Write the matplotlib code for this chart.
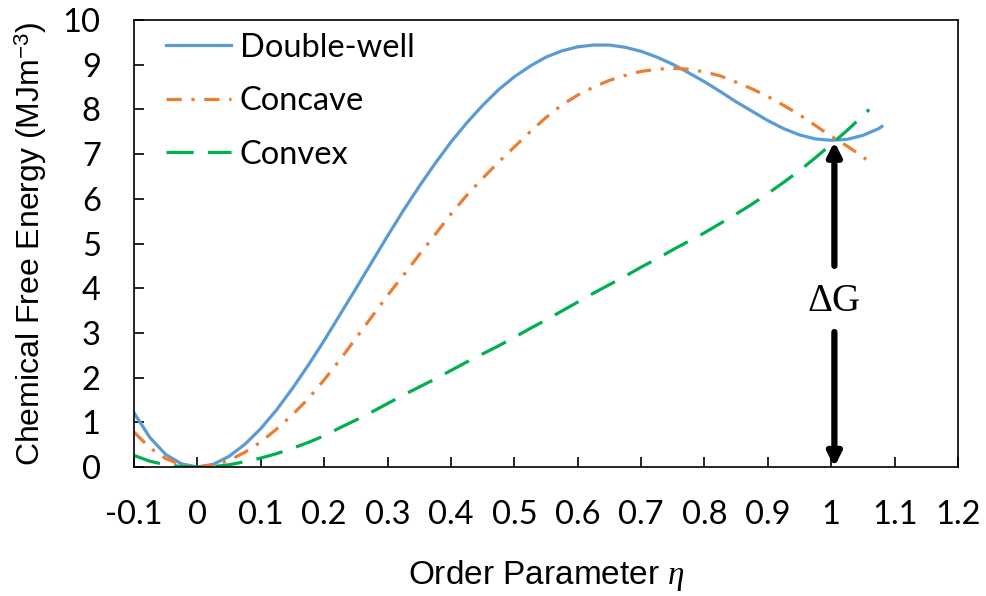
import matplotlib
matplotlib.use('Agg')
import matplotlib.pyplot as plt

# order parameter grid
eta = [-0.1, -0.075, -0.05, -0.025, 0.0, 0.025, 0.05, 0.075, 0.1, 0.125,
       0.15, 0.175, 0.2, 0.225, 0.25, 0.275, 0.3, 0.325, 0.35, 0.375,
       0.4, 0.425, 0.45, 0.475, 0.5, 0.525, 0.55, 0.575, 0.6, 0.625,
       0.65, 0.675, 0.7, 0.725, 0.75, 0.775, 0.8, 0.825, 0.85, 0.875,
       0.9, 0.925, 0.95, 0.975, 1.0, 1.025, 1.05]

eta_double = eta + [1.075, 1.08]
double_well = [1.21, 0.66, 0.28, 0.07, 0.0, 0.06, 0.24, 0.51, 0.86, 1.28,
               1.76, 2.28, 2.83, 3.41, 3.99, 4.58, 5.17, 5.74, 6.28, 6.79,
               7.27, 7.70, 8.09, 8.44, 8.73, 8.97, 9.17, 9.31, 9.40, 9.44,
               9.44, 9.39, 9.30, 9.17, 9.01, 8.82, 8.62, 8.40, 8.17, 7.96,
               7.75, 7.57, 7.43, 7.34, 7.31, 7.33, 7.42, 7.57, 7.62]

eta_concave = eta + [1.055]
concave = [0.78, 0.43, 0.19, 0.05, 0.0, 0.04, 0.15, 0.33, 0.56, 0.85,
           1.17, 1.53, 1.95, 2.40, 2.88, 3.36, 3.84, 4.29, 4.75, 5.20,
           5.66, 6.08, 6.46, 6.82, 7.16, 7.50, 7.82, 8.10, 8.32, 8.50,
           8.65, 8.76, 8.85, 8.90, 8.92, 8.90, 8.84, 8.75, 8.61, 8.46,
           8.29, 8.09, 7.88, 7.64, 7.40, 7.18, 6.94, 6.88]

eta_convex = eta + [1.06]
convex = [0.26, 0.13, 0.05, 0.01, 0.0, 0.01, 0.05, 0.12, 0.20, 0.30,
          0.42, 0.55, 0.70, 0.88, 1.05, 1.23, 1.42, 1.61, 1.79, 1.97,
          2.16, 2.35, 2.53, 2.71, 2.90, 3.10, 3.29, 3.49, 3.69, 3.89,
          4.08, 4.27, 4.47, 4.66, 4.86, 5.05, 5.24, 5.45, 5.66, 5.88,
          6.12, 6.37, 6.63, 6.92, 7.22, 7.53, 7.86, 8.00]

x_ticks = [-0.1, 0, 0.1, 0.2, 0.3, 0.4, 0.5, 0.6, 0.7, 0.8, 0.9, 1, 1.1, 1.2]
x_ticklabels = ['-0.1', '0', '0.1', '0.2', '0.3', '0.4', '0.5', '0.6', '0.7',
                '0.8', '0.9', '1', '1.1', '1.2']
y_ticks = list(range(0, 11))

delta_g = 7.28
arrow_x = 1.005

plt.rcParams['mathtext.fontset'] = 'custom'
plt.rcParams['mathtext.rm'] = 'Liberation Sans'
plt.rcParams['mathtext.it'] = 'Liberation Serif:italic'

fig = plt.figure(figsize=(9.87, 5.96), dpi=100)
ax = fig.add_axes([0.1358, 0.2164, 0.8348, 0.75])

lw = 2.3
ax.plot(eta_double, double_well, color='#5B9BD5', lw=lw, label='Double-well')
ax.plot(eta_concave, concave, color='#ED7D31', lw=lw,
        linestyle=(0, (4.8, 3.0, 1.0, 3.0)), label='Concave')
ax.plot(eta_convex, convex, color='#00B050', lw=lw,
        linestyle=(0, (8.5, 4.5)), label='Convex')

ax.set_xlim(-0.1, 1.2)
ax.set_ylim(0, 10)
ax.set_xticks(x_ticks)
ax.set_xticklabels(x_ticklabels)
ax.set_yticks(y_ticks)

for sp in ax.spines.values():
    sp.set_linewidth(1.2)
ax.tick_params(direction='in', length=7, width=1.2, labelsize=23.5)
ax.tick_params(axis='x', pad=24)
ax.tick_params(axis='y', pad=24)
for lab in ax.get_xticklabels() + ax.get_yticklabels():
    lab.set_fontfamily('Lato')

ax.set_xlabel('Order Parameter $\\mathit{\\eta}$', fontsize=24,
              fontfamily='Liberation Sans', labelpad=20)
ax.set_ylabel('Chemical Free Energy (MJm$^{-3}$)', fontsize=23,
              fontfamily='Liberation Sans', labelpad=10)

# Delta G arrows
arrow_kw = dict(arrowstyle='-|>,head_length=0.8,head_width=0.4',
                color='black', lw=4.5, shrinkA=0, shrinkB=0)
ax.annotate('', xy=(arrow_x, delta_g), xytext=(arrow_x, 4.5),
            arrowprops=arrow_kw)
ax.annotate('', xy=(arrow_x, 0.0), xytext=(arrow_x, 3.02),
            arrowprops=arrow_kw)
ax.text(arrow_x, 3.7, '\u0394G', fontsize=28, fontfamily='Liberation Serif',
        ha='center', va='center')

leg = ax.legend(loc='upper left', bbox_to_anchor=(0.039, 0.972), frameon=False,
                prop={'family': 'Lato', 'size': 23.5}, handlelength=2.0,
                handletextpad=0.25, labelspacing=0.72, borderpad=0,
                borderaxespad=0)

fig.savefig('out.png', dpi=100)
